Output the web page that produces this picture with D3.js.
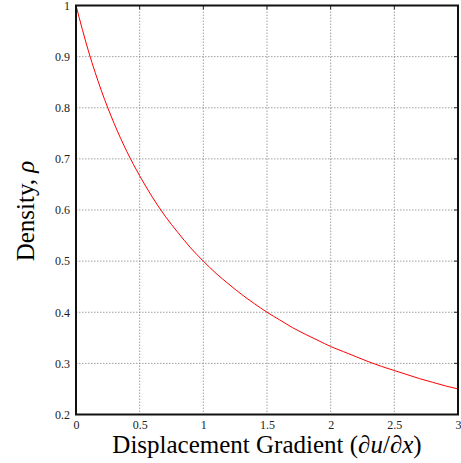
<!DOCTYPE html>
<html>
<head>
<meta charset="utf-8">
<script src="https://cdn.jsdelivr.net/npm/d3@7"></script>
<style>
  body { margin: 0; background: #fff; }
  svg { display: block; font-family: "Liberation Serif", "DejaVu Serif", serif; }
  .grid line { stroke: #888; stroke-width: 0.8; stroke-dasharray: 1.5,1.5; }
</style>
</head>
<body>
<svg width="461" height="463"></svg>
<script>
'use strict';

// values
var gradient = [0, 0.1, 0.2, 0.3, 0.4, 0.5, 0.6, 0.7, 0.8, 0.9, 1.0,
                1.1, 1.2, 1.3, 1.4, 1.5, 1.6, 1.7, 1.8, 1.9, 2.0,
                2.1, 2.2, 2.3, 2.4, 2.5, 2.6, 2.7, 2.8, 2.9, 3.0];
var density = [1.0, 0.909, 0.833, 0.769, 0.714, 0.667, 0.625, 0.588, 0.556, 0.526, 0.5,
               0.476, 0.455, 0.435, 0.417, 0.4, 0.385, 0.370, 0.357, 0.345, 0.333,
               0.323, 0.313, 0.303, 0.294, 0.286, 0.278, 0.270, 0.263, 0.256, 0.25];
var xTicks = [0, 0.5, 1, 1.5, 2, 2.5, 3];
var yTicks = [0.2, 0.3, 0.4, 0.5, 0.6, 0.7, 0.8, 0.9, 1];

var margin = {top: 5.5, right: 3, bottom: 48.5, left: 76},
    width = 461 - margin.left - margin.right,
    height = 463 - margin.top - margin.bottom;

var svg = d3.select("svg")
  .append("g")
  .attr("transform", "translate(" + margin.left + "," + margin.top + ")");

var x = d3.scaleLinear().domain([0, 3]).range([0, width]);
var y = d3.scaleLinear().domain([0.2, 1]).range([height, 0]);

// grid
var grid = svg.append("g").attr("class", "grid");
grid.selectAll(".gx")
  .data(xTicks.slice(1, -1))
  .enter().append("line")
  .attr("x1", function(d) { return x(d); })
  .attr("x2", function(d) { return x(d); })
  .attr("y1", 0).attr("y2", height);
grid.selectAll(".gy")
  .data(yTicks.slice(1, -1))
  .enter().append("line")
  .attr("y1", function(d) { return y(d); })
  .attr("y2", function(d) { return y(d); })
  .attr("x1", 0).attr("x2", width);

// axes
var fmt = function(d) { return d3.format("")(d); };

var xAxis = svg.append("g")
  .attr("transform", "translate(0," + height + ")")
  .call(d3.axisBottom(x).tickValues(xTicks).tickFormat(fmt).tickSize(0).tickPadding(6));
var yAxis = svg.append("g")
  .call(d3.axisLeft(y).tickValues(yTicks).tickFormat(fmt).tickSize(0).tickPadding(6));

[xAxis, yAxis].forEach(function(ax) {
  ax.attr("font-family", "Liberation Serif, serif").attr("font-size", 12);
  ax.select(".domain").remove();
  ax.selectAll("text").attr("fill", "#222");
});

// inner tick marks on top and right
svg.selectAll(".tt")
  .data(xTicks)
  .enter().append("line")
  .attr("x1", function(d) { return x(d); })
  .attr("x2", function(d) { return x(d); })
  .attr("y1", 0).attr("y2", 4)
  .attr("stroke", "#222");
svg.selectAll(".tr")
  .data(yTicks)
  .enter().append("line")
  .attr("y1", function(d) { return y(d); })
  .attr("y2", function(d) { return y(d); })
  .attr("x1", width - 4).attr("x2", width)
  .attr("stroke", "#222");

// the curve
var line = d3.line()
  .x(function(d, i) { return x(gradient[i]); })
  .y(function(d) { return y(d); })
  .curve(d3.curveMonotoneX);

svg.append("path")
  .datum(density)
  .attr("fill", "none")
  .attr("stroke", "#f00")
  .attr("stroke-width", 1)
  .attr("d", line);

// frame
svg.append("rect")
  .attr("width", width).attr("height", height)
  .attr("fill", "none")
  .attr("stroke", "#111")
  .attr("stroke-width", 2);

// labels
var xl = svg.append("text")
  .attr("x", width / 2)
  .attr("y", height + 38)
  .attr("text-anchor", "middle")
  .style("font-size", "25px");
xl.append("tspan").text("Displacement Gradient (");
xl.append("tspan").style("font-style", "italic").text("∂u");
xl.append("tspan").text("/");
xl.append("tspan").style("font-style", "italic").text("∂x");
xl.append("tspan").text(")");

var yl = svg.append("text")
  .attr("transform", "translate(-42.5," + (height / 2 + 1) + ") rotate(-90)")
  .attr("text-anchor", "middle")
  .style("font-size", "25px");
yl.append("tspan").text("Density, ");
yl.append("tspan").style("font-style", "italic").text("ρ");
</script>
</body>
</html>
